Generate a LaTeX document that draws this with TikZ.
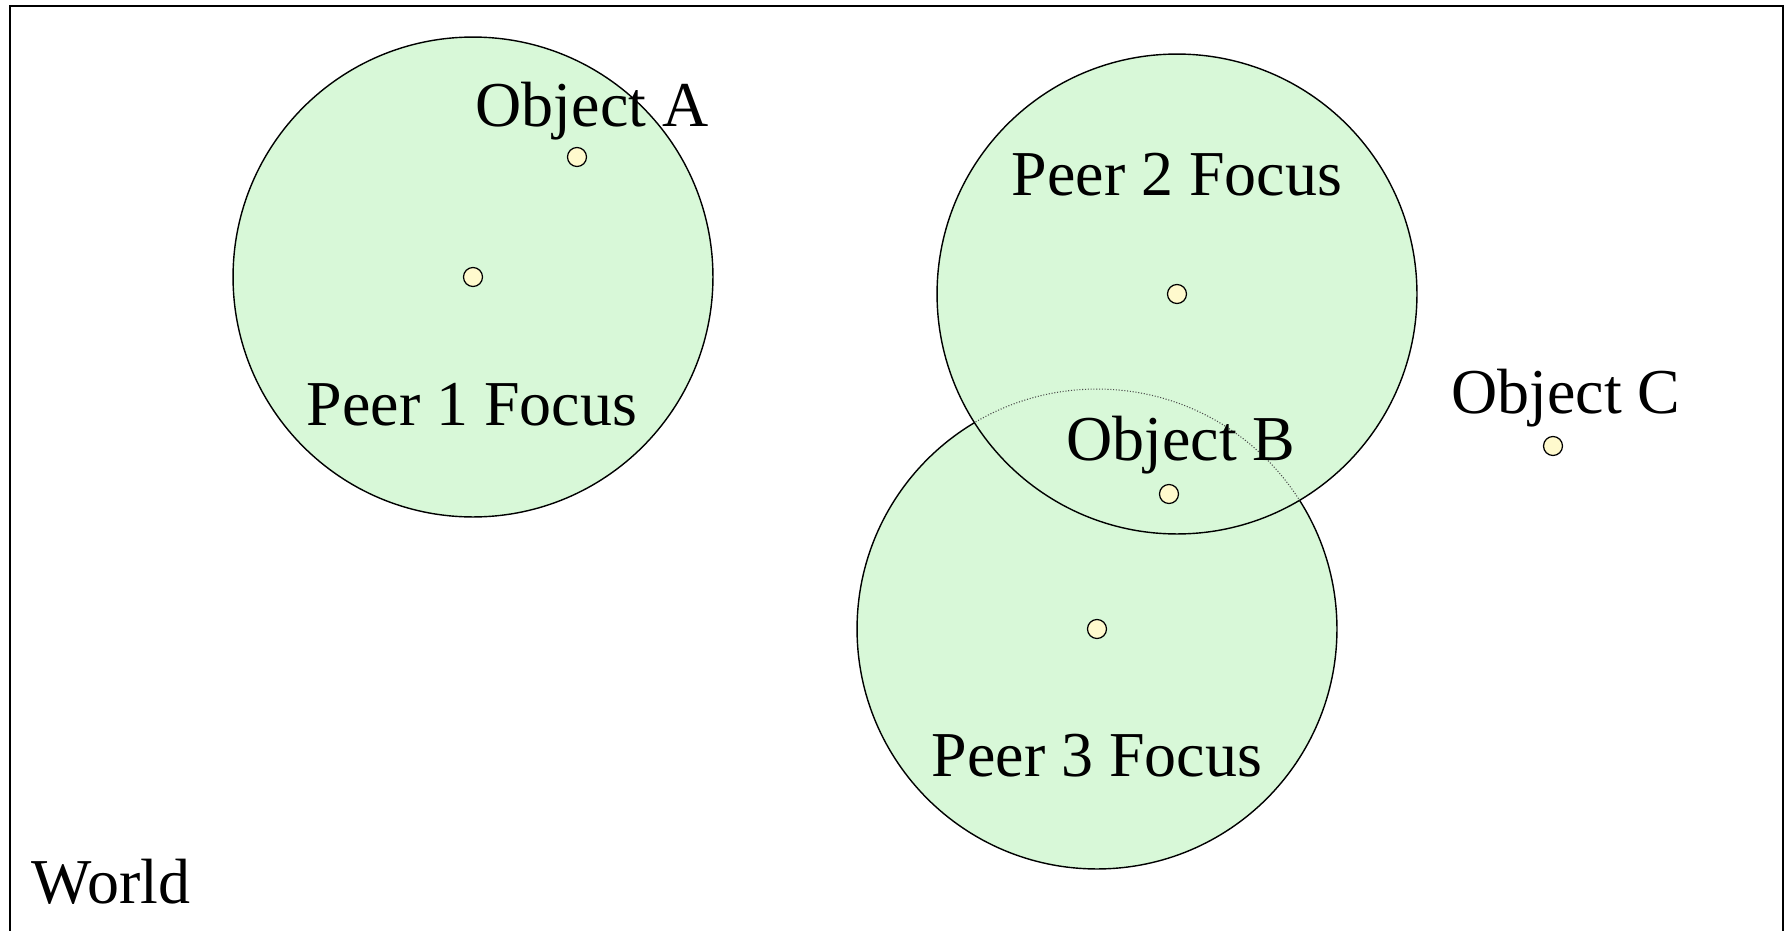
\documentclass[tikz,border=0pt]{standalone}
\usepackage{fontspec}
\setmainfont{Liberation Serif}
\definecolor{focusgreen}{RGB}{216,248,216}
\definecolor{dotyellow}{RGB}{255,250,205}
\tikzset{
  focus/.style={circle, draw=black, line width=0.8pt, fill=focusgreen, minimum size=9.6cm, inner sep=0pt},
  dot/.style={circle, draw=black, line width=0.7pt, fill=dotyellow, minimum size=0.38cm, inner sep=0pt},
  lbl/.style={anchor=base, inner sep=0pt, font=\fontsize{36.4}{40}\selectfont}
}
\begin{document}
\begin{tikzpicture}[x=0.02cm, y=-0.02cm]
    \useasboundingbox (0,0) rectangle (1788,930);
    \fill[white] (0,0) rectangle (1788,930);
    \draw[line width=1.1pt] (10,6) rectangle (1783,960);
    % focus regions
    \node [focus] (focus1) at (473,277) {};
    \node [focus] (focus3) at (1097,629) {};
    \node [focus] (focus2) at (1177,294) {};
    \begin{scope}
      \clip (focus2.center) circle [radius=4.8cm];
      \draw[densely dotted, line width=0.6pt, black!70] (focus3.center) circle [radius=4.8cm];
    \end{scope}
    % dots
    \node [dot] (peer1) at (473,277) {};
    \node [dot] (peer2) at (1177,294) {};
    \node [dot] (peer3) at (1097,629) {};
    \node [dot] (objA) at (577,157) {};
    \node [dot] (objB) at (1169,494) {};
    \node [dot] (objC) at (1553,446) {};
    % labels
    \node [lbl] (labelA) at (592,126) {Object A};
    \node [lbl] (labelB) at (1181,460) {Object B};
    \node [lbl] (labelC) at (1566,413) {Object C};
    \node [lbl] (label1) at (472,425) {Peer 1 Focus};
    \node [lbl] (label2) at (1177,195) {Peer 2 Focus};
    \node [lbl] (label3) at (1097,776) {Peer 3 Focus};
    \node [lbl] (world) at (111,903) {World};
  \end{tikzpicture}
\end{document}
